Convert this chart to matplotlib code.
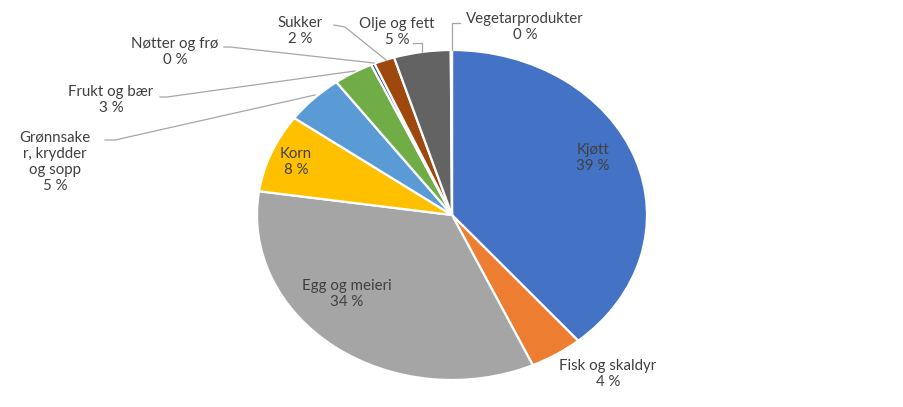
import matplotlib
matplotlib.use("Agg")
import matplotlib.pyplot as plt

# Share of food groups (percent)
categories = ["Kjøtt", "Fisk og skaldyr", "Egg og meieri", "Korn",
              "Grønnsaker, krydder og sopp", "Frukt og bær", "Nøtter og frø",
              "Sukker", "Olje og fett", "Vegetarprodukter"]
shares = [38.8, 4.4, 34.1, 7.7, 4.9, 3.3, 0.3, 1.7, 4.7, 0.1]
colors = ["#4472C4", "#ED7D31", "#A5A5A5", "#FFC000", "#5B9BD5",
          "#70AD47", "#264478", "#9E480E", "#636363", "#997300"]
# label text as shown (Grønnsaker is wrapped in the original)
label_text = ["Kjøtt", "Fisk og skaldyr", "Egg og meieri", "Korn",
              "Grønnsake\nr, krydder\nog sopp", "Frukt og bær", "Nøtter og frø",
              "Sukker", "Olje og fett", "Vegetarprodukter"]

W, H = 904, 407
CX, CY, RX, RY = 452, 215, 195, 165   # pie centre / radii in pixels


def px(x, y):
    """pixel position -> data coords (pie radius 1, stretched ellipse)"""
    return (x - CX) / RX, (CY - y) / RY


# label centres (pixels) and leader polylines (pixels, last point on the wedge)
label_pos = {
    "Kjøtt": (593, 158), "Fisk og skaldyr": (608, 374),
    "Egg og meieri": (347, 294), "Korn": (296, 162),
    "Grønnsaker, krydder og sopp": (55, 162), "Frukt og bær": (111, 100),
    "Nøtter og frø": (175, 52), "Sukker": (300, 31),
    "Olje og fett": (397, 32), "Vegetarprodukter": (525, 27),
}
leaders = {
    "Grønnsaker, krydder og sopp": [(105, 140), (115, 140), (315, 95)],
    "Frukt og bær": [(160, 97), (167, 97), (355, 71)],
    "Nøtter og frø": [(224, 47), (230, 47), (374, 63)],
    "Sukker": [(334, 25), (345, 27), (386, 60)],
    "Olje og fett": [(413, 43), (422, 43), (422, 52)],
    "Vegetarprodukter": [(460, 23), (452, 23), (452, 50)],
}

plt.rcParams["font.family"] = ["Lato", "DejaVu Sans"]

fig = plt.figure(figsize=(W / 100, H / 100), dpi=100)
ax = fig.add_axes([0, 0, 1, 1])
ax.pie(shares, colors=colors, startangle=90, counterclock=False,
       wedgeprops=dict(edgecolor="white", linewidth=1.6))
ax.set_aspect("auto")
ax.set_xlim(-CX / RX, (W - CX) / RX)
ax.set_ylim(-(H - CY) / RY, CY / RY)
ax.axis("off")

for name, txt, val in zip(categories, label_text, shares):
    x, y = px(*label_pos[name])
    ax.text(x, y, f"{txt}\n{round(val)} %", ha="center", va="center",
            fontsize=10.8, color="#404040", linespacing=1.2)
    if name in leaders:
        pts = [px(*p) for p in leaders[name]]
        ax.plot([p[0] for p in pts], [p[1] for p in pts],
                color="#A6A6A6", linewidth=0.9)

fig.savefig("out.png", dpi=100)
plt.close(fig)
